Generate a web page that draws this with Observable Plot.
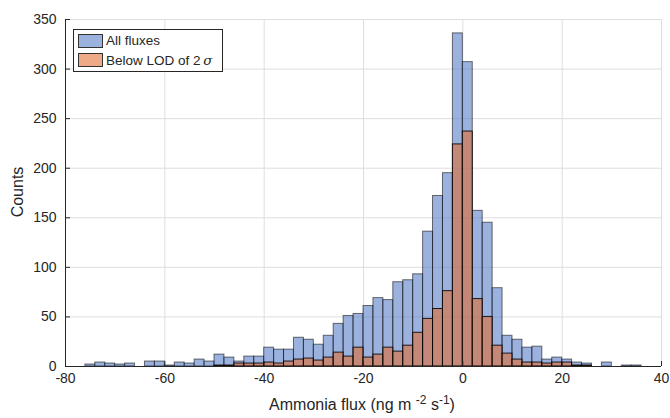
<!DOCTYPE html>
<html><head><meta charset="utf-8">
<script src="https://cdn.jsdelivr.net/npm/d3@7"></script>
<script src="https://cdn.jsdelivr.net/npm/@observablehq/plot@0.6"></script>
<style>
body{margin:0;background:#fff;font-family:"Liberation Sans",Arial,sans-serif;color:#262626;}
#wrap{position:relative;width:670px;height:418px;overflow:hidden;}
#wrap svg{position:absolute;left:0;top:0;}
.legend{position:absolute;left:73px;top:29px;width:148px;height:41px;border:1px solid #262626;background:#fff;font-size:13.5px;}
.legend .row{position:absolute;left:4px;height:15px;display:flex;align-items:center;}
.legend .sw{width:25px;height:14px;border:1px solid #333;box-sizing:border-box;margin-right:3px;}
.xlabel{position:absolute;left:0;width:724px;top:396px;text-align:center;font-size:16px;white-space:nowrap;}
.xlabel sup{font-size:12px;vertical-align:6px;line-height:0;}
.ylabel{position:absolute;left:18px;top:192px;font-size:16px;transform:translate(-50%,-50%) rotate(-90deg);white-space:nowrap;}
</style></head><body>
<div id="wrap"></div>
<script>
// Histogram bin left edges (bin width 2)
const binStarts = [-76,-74,-72,-70,-68,-66,-64,-62,-60,-58,-56,-54,-52,-50,-48,-46,-44,-42,-40,-38,-36,-34,-32,-30,-28,-26,-24,-22,-20,-18,-16,-14,-12,-10,-8,-6,-4,-2,0,2,4,6,8,10,12,14,16,18,20,22,24,26,28,30,32,34];
const binWidth = 2;
// Counts: all fluxes
const allFluxes = [2,4,3,2,3,0,5,5,1,4,3,7,5,12,9,5,10,10,19,17,17,29,27,22,31,43,51,53,61,69,67,85,87,93,136,172,195,336,307,157,145,79,31,27,19,20,7,9,7,4,3,0,4,0,1,1];
// Counts: below LOD of 2 sigma
const belowLOD = [0,0,0,0,0,0,0,0,0,0,0,0,0,1,1,3,3,3,4,3,5,7,8,6,9,14,10,19,9,12,19,15,21,34,48,58,76,224,237,68,50,21,13,7,4,4,3,4,4,1,1,0,0,0,0,0];
const xTicks = [-80,-60,-40,-20,0,20,40];
const yTicks = [0,50,100,150,200,250,300,350];
const seriesNames = ["All fluxes", "Below LOD of 2"];

const allData = binStarts.map((b,i)=>({x1:b, x2:b+binWidth, n:allFluxes[i]}));
const lodData = binStarts.map((b,i)=>({x1:b, x2:b+binWidth, n:belowLOD[i]}));

const W = 670, H = 418, mL = 65, mR = 9, mT = 19, mB = 52;
const pw = W - mL - mR, ph = H - mT - mB;
const ink = "#262626";
const blueFill = "rgb(88,125,200)", orangeFill = "rgb(222,108,52)";

const chart = Plot.plot({
  width: W, height: H,
  marginLeft: mL, marginRight: mR, marginTop: mT, marginBottom: mB,
  style: {fontFamily: '"Liberation Sans", Arial, sans-serif', color: ink, background: "#fff"},
  x: {domain: [-80, 40]},
  y: {domain: [0, 350]},
  marks: [
    Plot.gridX(xTicks, {stroke: "#dedede", strokeOpacity: 1}),
    Plot.gridY(yTicks, {stroke: "#dedede", strokeOpacity: 1}),
    Plot.rect(allData, {x1: "x1", x2: "x2", y1: () => 0, y2: "n", fill: blueFill, fillOpacity: 0.6, stroke: "#000", strokeOpacity: 0.55, strokeWidth: 1}),
    Plot.rect(lodData, {x1: "x1", x2: "x2", y1: () => 0, y2: "n", fill: orangeFill, fillOpacity: 0.6, stroke: "#000", strokeOpacity: 0.85, strokeWidth: 1}),
    Plot.ruleX(xTicks, {stroke: ink, insetTop: ph - 5}),
    Plot.ruleY(yTicks, {stroke: ink, insetRight: pw - 5}),
    Plot.ruleX([-80], {stroke: ink}),
    Plot.ruleY([0], {stroke: ink}),
    Plot.axisX(xTicks, {tickSize: 0, tickPadding: 7, fontSize: 14, label: null, tickFormat: d => String(d), fill: ink}),
    Plot.axisY(yTicks, {tickSize: 0, tickPadding: 9, fontSize: 14, label: null, tickFormat: d => String(d), fill: ink})
  ]
});
const wrap = document.getElementById("wrap");
wrap.appendChild(chart);

const legend = document.createElement("div");
legend.className = "legend";
legend.innerHTML =
  `<div class="row" style="top:3px"><div class="sw" style="background:#9bb1de"></div><span>${seriesNames[0]}</span></div>` +
  `<div class="row" style="top:22px"><div class="sw" style="background:#eeaa86"></div><span>${seriesNames[1]}&thinsp;<i style="font-family:'DejaVu Serif',serif">σ</i></span></div>`;
wrap.appendChild(legend);

const xl = document.createElement("div");
xl.className = "xlabel";
xl.innerHTML = "Ammonia flux (ng m <sup>-2</sup> s<sup>-1</sup>)";
wrap.appendChild(xl);

const yl = document.createElement("div");
yl.className = "ylabel";
yl.textContent = "Counts";
wrap.appendChild(yl);
</script>
</body></html>
